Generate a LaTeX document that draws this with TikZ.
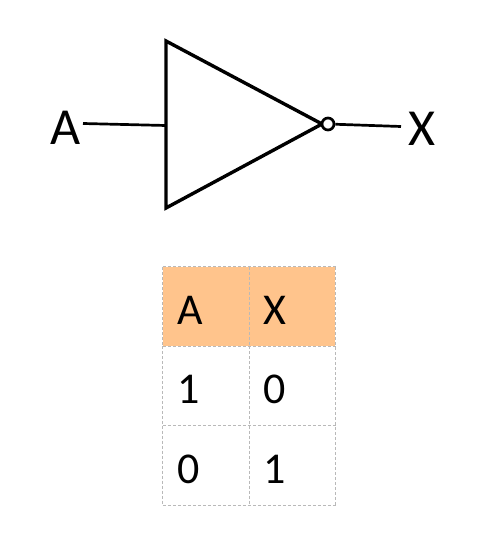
\documentclass[tikz,border=0pt]{standalone}
\usepackage{fontspec}
\setmainfont{Carlito}
\usetikzlibrary{positioning}
\definecolor{headfill}{HTML}{FFC48C}
\tikzset{
  wire/.style={line width=2.7pt},
  gateline/.style={line width=3.4pt, miter limit=10},
  biglabel/.style={inner sep=0pt, font=\fontsize{52}{52}\selectfont},
  cell/.style={minimum width=86pt, minimum height=79pt,
    inner sep=0pt, inner xsep=14pt, text width=58pt, text height=36pt, text depth=0pt, align=left,
    font=\fontsize{44}{44}\selectfont},
  headcell/.style={cell, fill=headfill},
  gridline/.style={draw=gray!55, dash pattern=on 3pt off 2pt, line width=0.7pt},
}
\begin{document}
\begin{tikzpicture}[x=1pt, y=-1pt]
	\useasboundingbox (0,0) rectangle (478,546);
	% gate
	\coordinate (top) at (166,41);
	\coordinate (bot) at (166,208);
	\coordinate (tip) at (322,124);
	\coordinate (inpin) at (166,125.5);
	\draw[gateline] (top) -- (tip) -- (bot) -- cycle;
	\node[draw, circle, line width=2.7pt, fill=white, minimum size=12pt, inner sep=0pt] (bubble) at (328,124) {};
	\node[biglabel] (inA) at (65.5,128) {A};
	\node[biglabel] (outX) at (422,129) {X};
	\coordinate (instart) at (83,123.5);
	\coordinate (outend) at (401,126.5);
	\draw[wire] (instart) -- (inpin);
	\draw[wire] (bubble) -- (outend);
	% table
	\node[headcell] (h1) at (206,306.5) {A};
	\node[headcell, right=0pt of h1] (h2) {X};
	\node[cell, below=0pt of h1] (a1) {1};
	\node[cell, right=0pt of a1] (b1) {0};
	\node[cell, below=0pt of a1] (a2) {0};
	\node[cell, right=0pt of a2] (b2) {1};
	\foreach \l/\r in {h1/h2, a1/b1, a2/b2}
	  \draw[gridline] (\l.north west) -- (\r.north east);
	\draw[gridline] (a2.south west) -- (b2.south east);
	\foreach \c in {h1, h2}
	  \draw[gridline] (\c.north west) -- (\c.south west);
	\foreach \c in {a1, b1, a2, b2}
	  \draw[gridline] (\c.north west) -- (\c.south west);
	\draw[gridline] (h2.north east) -- (b2.south east);
\end{tikzpicture}
\end{document}
